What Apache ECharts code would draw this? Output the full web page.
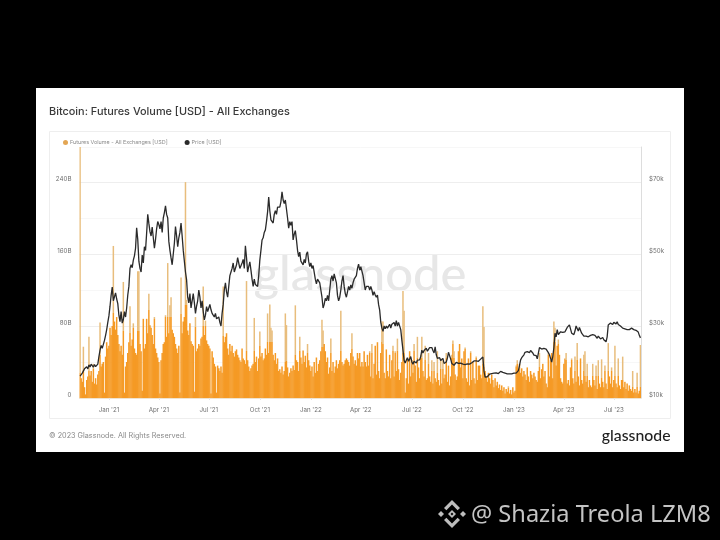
<!DOCTYPE html>
<html>
<head>
<meta charset="utf-8">
<style>html,body{margin:0;padding:0;background:#000}#c{width:720px;height:540px}</style>
<script src="https://cdn.jsdelivr.net/npm/echarts@6/dist/echarts.min.js"></script>
</head>
<body>
<div id="c"></div>
<script>
const titleText = "Bitcoin: Futures Volume [USD] - All Exchanges";
const footerText = "© 2023 Glassnode. All Rights Reserved.";
const brandText = "glassnode";
const creditText = "@ Shazia Treola LZM8";
const seriesNames = ["Futures Volume - All Exchanges [USD]", "Price [USD]"];
const startDate = "2020-11-11";
const stepDays = 2;
const volumeTicks = [0, 80, 160, 240];
const priceTicks = [10, 30, 50, 70];

// Futures volume, billions of USD, one reading every two days
const volume = [
279,22,18,57,12,4,20,24,68,25,30,18,38,16,22,15,26,30,84,35,
38,40,6,46,62,55,58,78,70,80,169,85,76,90,70,60,52,58,48,129,
6,35,40,50,62,102,58,65,83,55,50,48,141,141,60,52,8,88,55,60,
88,72,116,81,78,70,60,90,55,50,45,40,5,42,50,60,62,92,68,150,
72,103,112,76,72,68,60,55,50,58,6,134,72,85,90,240,109,75,70,83,
63,60,58,7,90,52,55,60,58,66,68,124,70,86,64,60,58,55,5,52,
45,38,35,6,36,33,30,35,28,124,62,68,72,55,48,60,52,58,50,46,
52,54,48,45,42,40,55,44,42,38,130,42,35,30,33,36,38,89,40,46,
30,44,74,46,50,42,44,55,48,94,50,104,78,75,48,42,50,38,44,30,
32,28,35,26,30,94,81,34,24,28,33,30,36,31,103,42,40,30,68,45,
38,53,40,47,34,60,42,36,30,35,24,40,28,45,30,38,42,52,87,75,
60,52,40,45,27,34,66,30,40,28,35,42,33,38,42,97,40,36,38,42,
44,42,40,36,50,72,46,38,42,36,50,44,50,35,40,35,52,40,35,48,
36,52,24,60,22,38,58,26,62,30,22,50,85,85,28,22,54,30,24,48,
22,42,58,24,52,30,66,32,20,28,40,119,97,6,22,44,16,52,24,42,
28,60,36,18,68,34,22,48,68,30,24,58,20,22,50,24,18,42,16,40,
22,18,52,20,14,44,16,42,22,26,50,18,36,14,24,48,64,52,26,20,
24,52,60,34,44,22,52,56,22,18,44,14,52,20,40,22,16,46,20,36,
36,26,22,102,79,30,24,18,28,22,16,26,20,12,22,14,18,11,15,9,
14,8,12,5,10,7,13,5,9,4,12,6,8,36,42,30,38,28,33,24,
30,26,20,34,24,18,30,26,22,28,24,20,18,30,50,22,32,38,24,30,
16,12,50,24,42,50,22,85,78,36,58,65,48,22,18,16,38,44,50,16,
20,14,34,44,22,16,46,18,61,24,14,44,20,16,48,52,18,38,12,20,
14,12,38,20,14,36,10,42,16,12,43,18,12,36,16,10,61,24,16,34,
12,20,58,16,12,44,14,10,20,46,12,18,10,16,8,14,10,8,30,6,
10,6,28,5,8,59
];

// Price, thousands of USD, same two-day readings
const price = [
16.1,16.4,16.9,17.2,18.1,17.6,18.7,18.1,19.2,18.6,19.4,19.0,18.6,19.3,18.7,18.3,19.4,21.5,23.3,24.6,
23.8,24.2,26.0,27.4,29.0,31.0,32.8,35.5,38.5,40.8,37.0,36.5,39.2,37.5,36.2,33.0,31.2,34.0,30.8,31.8,
34.0,32.5,35.0,38.6,41.0,46.0,47.0,46.2,48.3,49.5,51.6,57.3,54,48,46,45,49.7,47.5,52,51,
55.8,61,58.5,56.2,55,57.5,58,51.6,54,57,59,58.2,57,59,56,60,61.5,63.4,61,60,
53.5,51,48.9,47,50,53,57.6,55,52,54.5,56,58.6,55,51,48,45,42.8,38,36.4,39,
35,37,39,36.5,33.5,35.5,37,40,38,35,37,34,31.7,33,35.4,34,35,36,34.5,33.5,
33.5,32.5,33.5,32,31.5,32.5,31,30,33.5,36,40,42,39.5,38,41,44,45,46,47.5,45,
44.5,47,49,47.5,46,46.5,47.5,48.5,46,52.3,49,45,46.5,47.8,45.5,43,41,43,41.5,41,
41,44,48.3,51,53.9,54.5,56,56.7,59,61.7,65.8,62,59.5,60,58.6,61,62,61,63,62.5,
63,64.5,67.3,65,64,65,64.5,60,57.2,59,58,59,53.9,55.5,56.5,54,51,49.3,50.5,48,
47.5,47,48.5,47.5,50,50.6,48,46.5,47.5,46,46.8,46.5,43,41.7,43,42.5,42,40,38,35,
36,37.7,37,38.5,37,40,43,44,42.5,44.5,44,42,38.5,37,38,40,42.5,44,41,39,
38,39.5,41,40,41.4,40.5,42,43,42.5,44,46,47.2,45.5,46.5,46,44,42,40,41,40.5,
41,40,41,40,38.5,39.5,38.6,38,38.6,36,34.4,31,29.4,28.5,30,29.2,30,29.4,29.6,30.5,
29.4,30.5,30,31,30,31.5,30,31,31,29,26,23.3,20.5,19.7,20.5,21.2,20.2,20.8,21.5,20,
19.4,20.2,20.5,19.7,20.5,21,20.6,21.5,23.3,22.5,23.2,22.8,23.8,23,23.2,24,24.2,24,23.2,22.5,
24.2,22,21,21,21.2,20.4,20.8,21,19.6,19.1,20,21,22.7,22.4,20.8,19.6,19.2,19.1,19.6,19.9,
20,19.6,20,19.7,19.2,19.4,19.1,19.3,19.6,19.5,19.3,19.4,19.5,19.8,20.1,20.3,20,20.3,20.5,20.2,
20.4,20.8,21.1,21.4,17.5,15.8,16.2,15.9,16.4,16.6,16.3,16.8,16.6,16.9,16.7,17.0,16.9,16.8,17.0,17.4,
17.5,17.1,17.0,16.9,16.8,16.7,16.6,16.7,16.8,16.7,16.8,16.9,17.0,16.9,16.9,17.6,19.0,20.6,21.2,21.6,
22,22.7,22.4,22.9,23,22.6,23.2,23,22.5,21.9,21.6,21.8,20.9,20.5,24.0,24.4,23.6,24,23.8,24.2,
23.6,23.4,22.6,22,21,20,21.5,24,28,27,29,27.6,28,28.4,28,28.2,28.6,28.4,29,29.6,
30,30.3,30.2,28,27.8,27.6,28.6,30,29.5,28.6,29.6,29.3,28,27.5,27.2,27,27.2,27.5,27,27.1,
27.4,27.1,27.6,27.8,27.4,27,26.6,27.2,26.8,26.4,26.2,26.8,26.2,25.8,25.6,27,30.3,30.5,30.8,30.6,
30.4,31,30.8,30.6,31.2,30.4,30.2,30,29.8,29.4,29.6,29.2,29.4,29.0,29.3,29,29.1,29.4,29.2,29,
29,28.8,28.7,28.3,27.4,26.7
];

const MONTHS = ["Jan","Feb","Mar","Apr","May","Jun","Jul","Aug","Sep","Oct","Nov","Dec"];
const t0 = Date.parse(startDate + "T00:00:00Z");
const dates = volume.map((_, i) => new Date(t0 + i * stepDays * 864e5));
const categories = dates.map(d => d.toISOString().slice(0, 10));
const isQuarterTick = i => { const d = dates[i]; return d.getUTCDate() <= 2 && d.getUTCMonth() % 3 === 0; };
const quarterLabel = s => { const d = new Date(s + "T00:00:00Z"); return MONTHS[d.getUTCMonth()] + " '" + String(d.getUTCFullYear()).slice(2); };

const ORANGE = "#f59a25", PALE = "#e8bd7c";
// a bar that rises well above its neighbours shows a thin pale tip
const localBody = i => {
  const near = volume.slice(Math.max(0, i - 6), i + 7).slice().sort((a, b) => a - b);
  return near[Math.floor(near.length * 0.6)] * 1.25;
};
const barColor = p => {
  const body = localBody(p.dataIndex);
  if (p.value <= body) return ORANGE;
  const f = 1 - body / p.value;
  return { type: "linear", x: 0, y: 0, x2: 0, y2: 1, colorStops: [
    { offset: 0, color: PALE }, { offset: f, color: PALE }, { offset: f, color: ORANGE }, { offset: 1, color: ORANGE } ] };
};

const txt = (text, x, y, font, fill, align, z) => ({
  type: "text", z: z === undefined ? 1 : z, silent: true, x, y,
  style: { text, font, fill, align: align || "left", verticalAlign: "middle" }
});
const ICON = "#bdbdbd";
const poly = pts => ({ type: "polygon", z: 1, silent: true, shape: { points: pts }, style: { fill: ICON } });

const chart = echarts.init(document.getElementById("c"));
chart.setOption({
  animation: false,
  backgroundColor: "#000",
  graphic: [
    { type: "rect", z: -3, silent: true, shape: { x: 36, y: 88, width: 648, height: 364 }, style: { fill: "#fff" } },
    { type: "rect", z: -2, silent: true, shape: { x: 49.5, y: 131.5, width: 621, height: 287 }, style: { fill: "#fff", stroke: "#eeeeee", lineWidth: 1 } },
    txt(brandText, 360, 275, "500 49px Lato, Inter, sans-serif", "#e7e7e7", "center", -1),
    txt(titleText, 49, 111.5, "500 10.9px Inter, Roboto, sans-serif", "#3a3a3a"),
    txt(footerText, 49, 436, "7.25px Inter, Roboto, sans-serif", "#8a8a8a"),
    txt(brandText, 670.5, 435.5, "500 15.8px Lato, Inter, sans-serif", "#1f1f1f", "right"),
    txt(creditText, 471, 515.5, "23.6px 'Noto Sans', 'Open Sans', sans-serif", "#c4c4c4"),
    poly([[452,510],[456,514],[452,518],[448,514],[452,510],[452,512.6],[450.6,514],[452,515.4],[453.4,514],[452,512.6]]),
    poly([[452,500],[460,508],[457.6,510.2],[452,504.6],[446.4,510.2],[444,508]]),
    poly([[452,528],[460,520],[457.6,517.8],[452,523.4],[446.4,517.8],[444,520]]),
    poly([[441,511],[444,514],[441,517],[438,514]]),
    poly([[463,511],[466,514],[463,517],[460,514]])
  ],
  legend: {
    left: 58, top: 135, itemGap: 17, itemWidth: 5, itemHeight: 5, icon: "circle",
    textStyle: { fontSize: 5.4, color: "#8a8a8a", fontFamily: "Inter, Roboto, sans-serif", padding: [0, 0, 0, -3] },
    data: [{ name: seriesNames[0], itemStyle: { color: "#e3a654" } }, { name: seriesNames[1], itemStyle: { color: "#2a2a2a" } }]
  },
  grid: { left: 79.5, right: 79, top: 147, bottom: 142, containLabel: false },
  xAxis: {
    type: "category", data: categories, boundaryGap: true,
    axisLine: { lineStyle: { color: "#efe3d0", width: 1 } },
    axisTick: { show: true, length: 2, alignWithLabel: true, interval: i => isQuarterTick(i), lineStyle: { color: "#e6e6e6" } },
    axisLabel: { interval: i => isQuarterTick(i), formatter: quarterLabel, fontSize: 6.2, color: "#6f6f6f", margin: 9, fontFamily: "Inter, Roboto, sans-serif" },
    splitLine: { show: false }
  },
  yAxis: [
    {
      type: "value", min: 0, max: 279, interval: 40, position: "left",
      axisLine: { show: false }, axisTick: { show: false },
      splitLine: { show: true, lineStyle: { color: ["#eeeeee", "#f7f7f7"], width: 1 } },
      axisLabel: {
        showMaxLabel: false, margin: 8, fontSize: 6.2, color: "#6f6f6f", verticalAlign: "bottom", fontFamily: "Inter, Roboto, sans-serif",
        formatter: v => volumeTicks.includes(v) ? (v === 0 ? "0" : v + "B") : ""
      }
    },
    {
      type: "value", min: 10, max: 79.72, position: "right",
      axisLine: { show: true, lineStyle: { color: "#dddddd", width: 1 } }, axisTick: { show: false },
      splitLine: { show: false },
      axisLabel: {
        customValues: priceTicks, margin: 8, fontSize: 6.2, color: "#6f6f6f", verticalAlign: "bottom", fontFamily: "Inter, Roboto, sans-serif",
        formatter: v => "$" + v + "k"
      }
    }
  ],
  series: [
    { name: seriesNames[0], type: "bar", yAxisIndex: 0, data: volume, barWidth: 1.5,
      itemStyle: { color: barColor }, emphasis: { disabled: true } },
    { name: seriesNames[1], type: "line", yAxisIndex: 1, data: price, showSymbol: false, smooth: false, z: 5,
      itemStyle: { color: "#2a2a2a" }, lineStyle: { color: "#2a2a2a", width: 1.3 }, emphasis: { disabled: true } }
  ]
});
</script>
</body>
</html>
